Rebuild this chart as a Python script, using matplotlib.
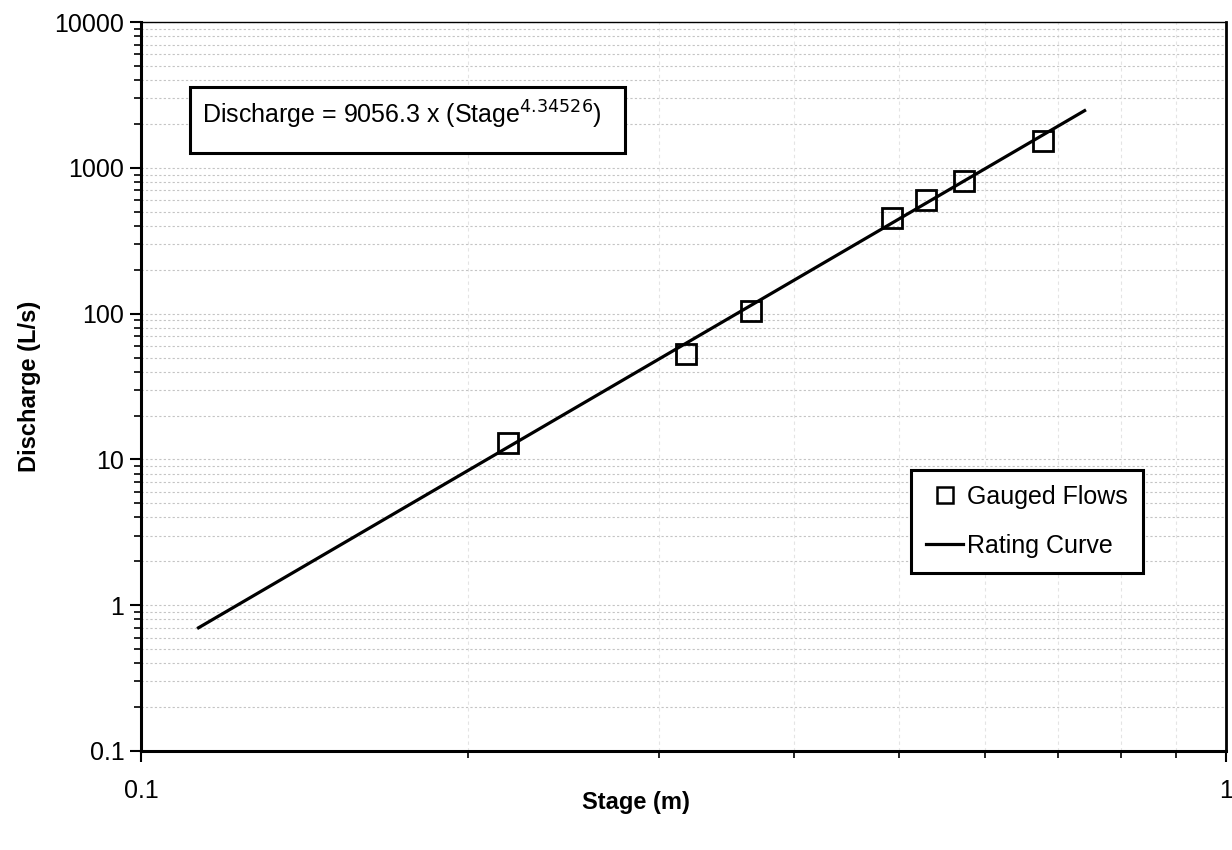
import numpy as np
import matplotlib.pyplot as plt
from matplotlib.patches import Rectangle
from matplotlib.ticker import LogLocator, FixedLocator, NullFormatter

plt.rcParams['font.family'] = ['Liberation Sans', 'DejaVu Sans']

# gauged flows
stage = [0.218, 0.318, 0.365, 0.492, 0.529, 0.574, 0.678]
discharge = [12.9, 52.8, 104, 453, 601, 812, 1527]

# rating curve end points (straight line on log-log)
curve_stage = [0.113, 0.741]
curve_discharge = [0.70, 2470]

equation = r"Discharge = 9056.3 x (Stage$^{4.34526}$)"
x_ticks = [0.1, 1]
x_labels = ["0.1", "1"]
y_ticks = [0.1, 1, 10, 100, 1000, 10000]
y_labels = ["0.1", "1", "10", "100", "1000", "10000"]


def plot_rating():
    fig = plt.figure(figsize=(12.32, 8.5), dpi=100)
    ax = fig.add_axes([0.1144, 0.1165, 0.8806, 0.8575])
    ax.set_xscale("log")
    ax.set_yscale("log")

    ax.plot(curve_stage, curve_discharge, color="black", lw=2.3, label="Rating Curve", zorder=3)
    ax.plot(stage, discharge, ls="none", marker="s", ms=15, mfc="none", mec="black",
            mew=2, label="Gauged Flows", zorder=4)

    ax.set_xlim(0.1, 1)
    ax.set_ylim(0.1, 10000)
    ax.xaxis.set_major_locator(FixedLocator(x_ticks))
    ax.set_xticklabels(x_labels)
    ax.yaxis.set_major_locator(FixedLocator(y_ticks))
    ax.set_yticklabels(y_labels)
    ax.xaxis.set_minor_locator(LogLocator(base=10, subs=np.arange(2, 10)))
    ax.yaxis.set_minor_locator(LogLocator(base=10, subs=np.arange(2, 10), numticks=20))
    ax.xaxis.set_minor_formatter(NullFormatter())
    ax.yaxis.set_minor_formatter(NullFormatter())

    ax.grid(which="both", axis="y", color="#c4c4c4", ls=(0, (2, 2)), lw=0.8)
    ax.grid(which="minor", axis="x", color="#e4e4e4", ls=(0, (3, 3)), lw=0.8)

    ax.tick_params(which="major", direction="out", length=8, width=1.5, labelsize=18)
    ax.tick_params(axis="y", which="major", pad=4)
    ax.tick_params(axis="x", which="major", pad=12)
    ax.tick_params(which="minor", direction="out", length=5, width=1.2)
    for s in ["left", "bottom"]:
        ax.spines[s].set_linewidth(2.2)
    ax.spines["right"].set_linewidth(2)
    ax.spines["top"].set_linewidth(1)

    ax.set_xlabel("Stage (m)", fontsize=17, fontweight="bold")
    ax.xaxis.set_label_coords(0.456, -0.055)
    ax.set_ylabel("Discharge (L/s)", fontsize=17, fontweight="bold", labelpad=10)

    # equation box
    ax.add_patch(Rectangle((0.045, 0.820), 0.401, 0.091, transform=ax.transAxes,
                           fc="white", ec="black", lw=2.2, zorder=5))
    ax.text(0.056, 0.872, equation, transform=ax.transAxes, fontsize=18,
            va="center", ha="left", zorder=6)

    handles, labels = ax.get_legend_handles_labels()
    leg = ax.legend(handles[::-1], labels[::-1], loc="upper left",
                    bbox_to_anchor=(0.7097, 0.3855), fontsize=18, frameon=True,
                    fancybox=False, edgecolor="black", framealpha=1,
                    borderpad=0.6, labelspacing=1.0, handlelength=1.5,
                    handletextpad=0.15, borderaxespad=0)
    leg.get_frame().set_linewidth(2.2)
    leg.legend_handles[0].set_markersize(11)
    leg.legend_handles[0].set_markeredgewidth(1.8)

    fig.savefig("out.png", dpi=100)


if __name__ == "__main__":
    plot_rating()
